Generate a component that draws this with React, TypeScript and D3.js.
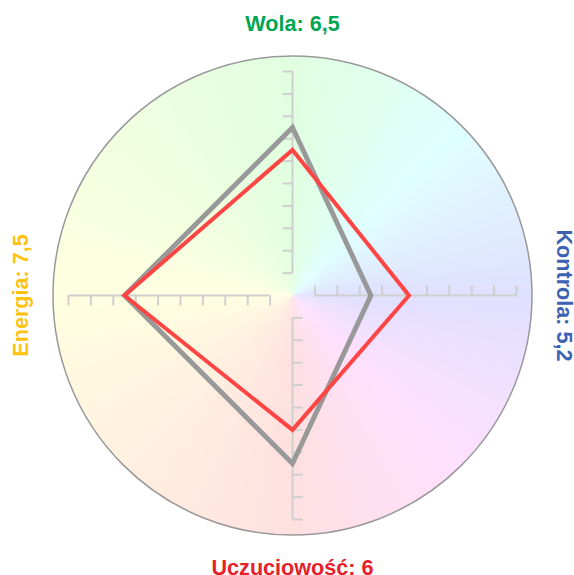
import React from "react";
import * as d3 from "d3";

const axes = ["Wola", "Kontrola", "Uczuciowość", "Energia"];
const axisLabels = ["Wola: 6,5", "Kontrola: 5,2", "Uczuciowość: 6", "Energia: 7,5"];
const redValues = [6.5, 5.2, 6, 7.5];
const grayValues = [7.5, 3.5, 7.5, 7.5];
const tickValues = [1, 2, 3, 4, 5, 6, 7, 8, 9, 10];
const labelColors = ["#00a651", "#3d62b3", "#e8202a", "#ffc20e"];
const bgAnchors = ["hsl(120,100%,94%)", "hsl(240,100%,94%)", "hsl(360,100%,94%)", "hsl(420,100%,94%)", "hsl(480,100%,94%)"];

const W = 574;
const H = 575;
const cx = 292.5;
const cy = 295.5;
const R = 239.5;

export default function App() {
  const r = d3.scaleLinear().domain([0, 10]).range([0, 224]);
  const angle = d3.scaleLinear().domain([0, axes.length]).range([0, 2 * Math.PI]);

  // background conic gradient via wedges
  const N = 360;
  const arc = d3.arc();
  const wedges = d3.range(N).map((i) => {
    const a0 = (i / N) * 2 * Math.PI;
    const a1 = ((i + 1.6) / N) * 2 * Math.PI;
    const t = (i + 0.5) / N * 4;
    const seg = Math.min(3, Math.floor(t));
    const col = d3.interpolateHsl(bgAnchors[seg], bgAnchors[seg + 1])(t - seg);
    return { d: arc({ innerRadius: 0, outerRadius: R, startAngle: a0, endAngle: a1 } as any) as string, col };
  });

  const line = d3
    .lineRadial<number>()
    .angle((_, i) => angle(i))
    .radius((v) => r(v))
    .curve(d3.curveLinearClosed);

  const tickLen = 10;

  return (
    <svg
      width={W}
      height={H}
      style={{ position: "absolute", left: 0, top: 0 }}
      fontFamily="'Liberation Sans', Arial, Helvetica, sans-serif"
    >
      <g transform={`translate(${cx},${cy})`}>
        {wedges.map((w, i) => (
          <path key={i} d={w.d} fill={w.col} />
        ))}
        <circle r={R} fill="none" stroke="#999" strokeWidth={1.5} />
        {axes.map((a, i) => {
          const deg = (angle(i) * 180) / Math.PI;
          return (
            <g key={a} transform={`rotate(${deg})`} stroke="#cfcfcf" strokeWidth={2} fill="none">
              <line x1={0} x2={0} y1={-r(tickValues[0])} y2={-r(tickValues[tickValues.length - 1])} />
              {tickValues.map((t) => (
                <line key={t} x1={0} x2={-tickLen} y1={-r(t)} y2={-r(t)} />
              ))}
            </g>
          );
        })}
        <path d={line(grayValues) as string} fill="none" stroke="#999999" strokeWidth={5} strokeLinejoin="miter" />
        <path d={line(redValues) as string} fill="none" stroke="#ff4444" strokeWidth={4} strokeLinejoin="miter" />
      </g>
      <text x={cx} y={31} textAnchor="middle" fontSize={21.6} fontWeight="bold" fill={labelColors[0]}>
        {axisLabels[0]}
      </text>
      <text
        transform={`translate(557,${cy}) rotate(90)`}
        textAnchor="middle"
        fontSize={21.6}
        fontWeight="bold"
        fill={labelColors[1]}
      >
        {axisLabels[1]}
      </text>
      <text x={cx} y={574.5} textAnchor="middle" fontSize={21.6} fontWeight="bold" fill={labelColors[2]}>
        {axisLabels[2]}
      </text>
      <text
        transform={`translate(27.5,${cy}) rotate(-90)`}
        textAnchor="middle"
        fontSize={21.6}
        fontWeight="bold"
        fill={labelColors[3]}
      >
        {axisLabels[3]}
      </text>
    </svg>
  );
}
